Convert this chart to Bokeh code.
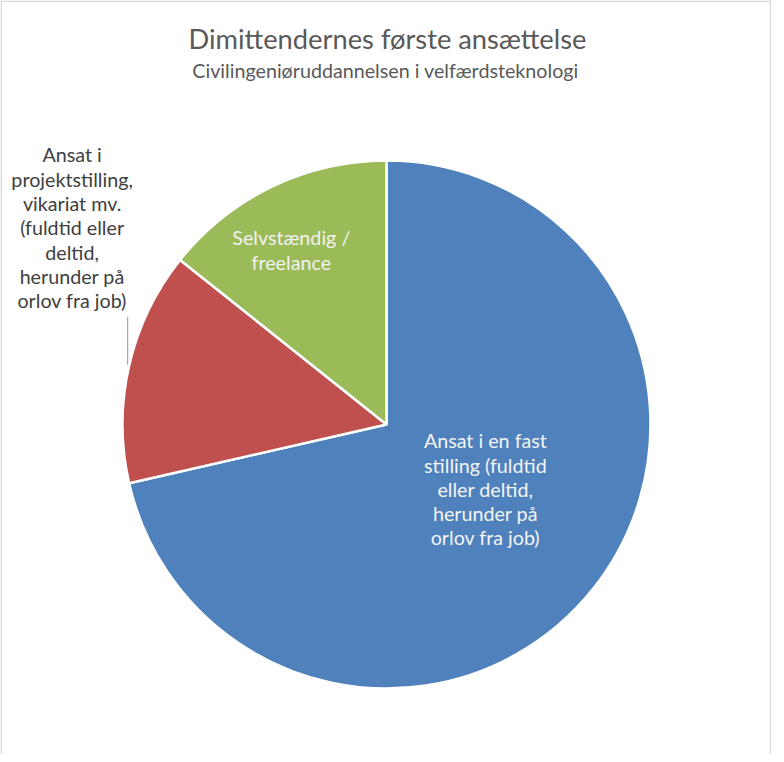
import numpy as np
from bokeh.plotting import figure
from bokeh.models import Range1d, ColumnDataSource, Span
from bokeh.core.properties import value
from bokeh.embed import file_html
from bokeh.resources import INLINE

# ---- data ----
title_text = "Dimittendernes første ansættelse"
subtitle_text = "Civilingeniøruddannelsen i velfærdsteknologi"
categories = [
    "Ansat i en fast\nstilling (fuldtid\neller deltid,\nherunder på\norlov fra job)",
    "Ansat i\nprojektstilling,\nvikariat mv.\n(fuldtid eller\ndeltid,\nherunder på\norlov fra job)",
    "Selvstændig /\nfreelance",
]
counts = [5, 1, 1]
colors = ["#4F81BD", "#C0504D", "#9BBB59"]

# ---- layout ----
W, H = 771, 754
CX, CY, R = 386, 330, 264
FONT = "Lato"
label_inside = [True, False, True]
label_rfrac = [0.448, 1.0, 0.753]
label_dang = [5.3, 0.0, 2.9]
label_colors = ["#f4f4f4", "#404040", "#f2f2f2"]
leader_len = 49
outside_dx, outside_dy = -57, 138

vals = np.array(counts, dtype=float)
frac = vals / vals.sum()
cum = np.concatenate([[0.0], np.cumsum(frac)])
start = np.pi / 2 - 2 * np.pi * cum[:-1]
end = np.pi / 2 - 2 * np.pi * cum[1:]
mid = (start + end) / 2

p = figure(width=W, height=H, output_backend="svg", toolbar_location=None,
           x_range=Range1d(0, W), y_range=Range1d(0, H),
           x_axis_type=None, y_axis_type=None, min_border=0)
p.grid.visible = False
p.outline_line_color = None
p.background_fill_color = "white"
p.border_fill_color = "white"

# chart-area frame (left, right, top; bottom falls outside the window)
for loc, dim in [(0.75, "height"), (770.0, "height"), (753.25, "width")]:
    p.add_layout(Span(location=loc, dimension=dim, line_color="#d9d9d9", line_width=1.5))

src = ColumnDataSource(dict(start=start, end=end, color=colors))
p.wedge(x=CX, y=CY, radius=R, start_angle="start", end_angle="end",
        direction="clock", fill_color="color", line_color="white",
        line_width=2.5, source=src)

# labels
lx, ly, lt, lc = [], [], [], []
for i, txt in enumerate(categories):
    if label_inside[i]:
        a = mid[i] + np.deg2rad(label_dang[i])
        r = R * label_rfrac[i]
        lx.append(CX + r * np.cos(a))
        ly.append(CY + r * np.sin(a))
    else:
        ax = CX + R * np.cos(mid[i])
        ay = CY + R * np.sin(mid[i])
        p.line([ax - 1.5, ax - 1.5], [ay + 1, ay + leader_len], line_color="#a6a6a6", line_width=1.2)
        lx.append(ax + outside_dx)
        ly.append(ay + outside_dy)
    lt.append(txt)
    lc.append(label_colors[i])

lsrc = ColumnDataSource(dict(x=lx, y=ly, text=lt, color=lc))
p.text(x="x", y="y", text="text", source=lsrc, text_color="color",
       text_font=value(FONT), text_font_size="19.7px", text_align="center",
       text_baseline="middle", text_line_height=1.055)

p.text(x=[CX + 1], y=[716], text=[title_text], text_font=value(FONT),
       text_font_size="27.3px", text_color="#595959", text_align="center",
       text_baseline="middle")
p.text(x=[CX - 1], y=[684], text=[subtitle_text], text_font=value(FONT),
       text_font_size="19.7px", text_color="#595959", text_align="center",
       text_baseline="middle")

open("out.html", "w").write(file_html(p, INLINE))
